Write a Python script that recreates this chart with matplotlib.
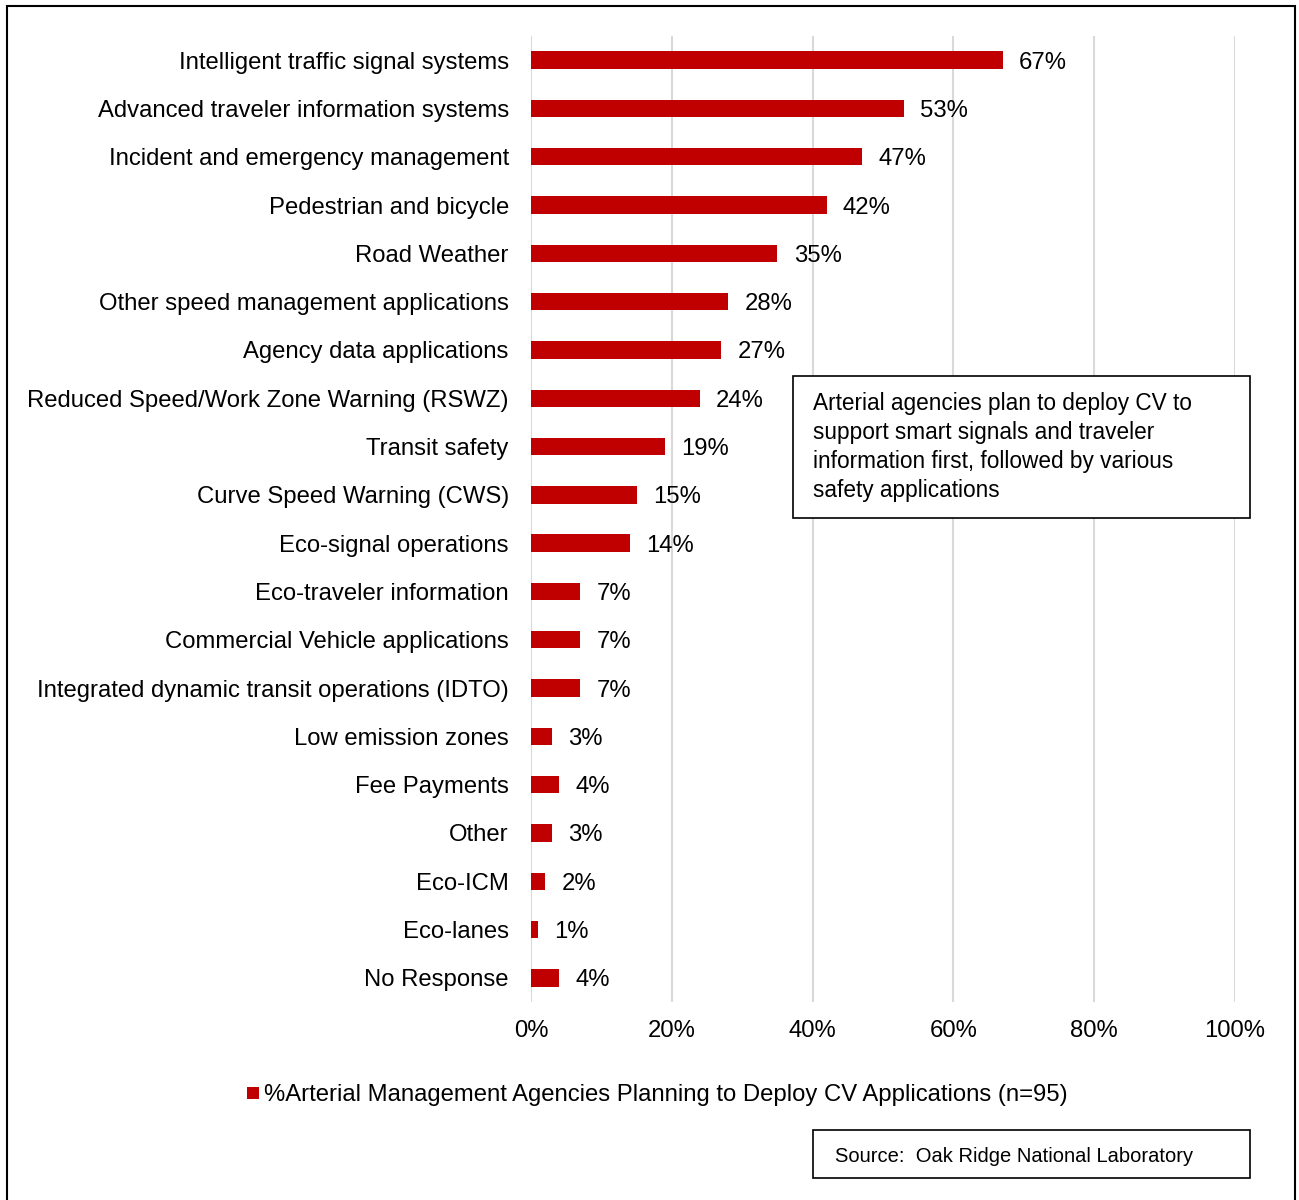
import matplotlib
matplotlib.use("Agg")
import matplotlib.pyplot as plt
from matplotlib.patches import Rectangle

plt.rcParams['font.family'] = ['Liberation Sans', 'DejaVu Sans']

categories = [
    "Intelligent traffic signal systems",
    "Advanced traveler information systems",
    "Incident and emergency management",
    "Pedestrian and bicycle",
    "Road Weather",
    "Other speed management applications",
    "Agency data applications",
    "Reduced Speed/Work Zone Warning (RSWZ)",
    "Transit safety",
    "Curve Speed Warning (CWS)",
    "Eco-signal operations",
    "Eco-traveler information",
    "Commercial Vehicle applications",
    "Integrated dynamic transit operations (IDTO)",
    "Low emission zones",
    "Fee Payments",
    "Other",
    "Eco-ICM",
    "Eco-lanes",
    "No Response",
]
values = [67, 53, 47, 42, 35, 28, 27, 24, 19, 15, 14, 7, 7, 7, 3, 4, 3, 2, 1, 4]
x_ticks = [0, 20, 40, 60, 80, 100]
series_name = "%Arterial Management Agencies Planning to Deploy CV Applications (n=95)"
note_text = ("Arterial agencies plan to deploy CV to\n"
             "support smart signals and traveler\n"
             "information first, followed by various\n"
             "safety applications")
source_text = "Source:  Oak Ridge National Laboratory"

RED = "#C00000"
GRID = "#D9D9D9"
FS = 17.2

W, H = 1299, 1200
fig = plt.figure(figsize=(W / 100, H / 100), dpi=100)

def fx(px):
    return px / W

def fy(py):
    return 1 - py / H

# outer frame
fig.patches.append(Rectangle((fx(7), fy(1210)), fx(1295) - fx(7), fy(6) - fy(1210),
                             transform=fig.transFigure, fill=False,
                             edgecolor="black", linewidth=1.5))

ax = fig.add_axes([fx(531), fy(1002), fx(1235) - fx(531), fy(36) - fy(1002)])
ypos = list(range(len(categories)))
ax.barh(ypos, values, height=0.36, color=RED, zorder=3)
ax.set_ylim(len(categories) - 0.5, -0.5)
ax.set_xlim(0, 100)
ax.set_yticks(ypos)
ax.set_yticklabels(categories, fontsize=FS)
ax.set_xticks(x_ticks)
ax.set_xticklabels([f"{t}%" for t in x_ticks], fontsize=FS)
ax.tick_params(axis='y', length=0, pad=16)
ax.tick_params(axis='x', length=0, pad=13)
for s in ax.spines.values():
    s.set_visible(False)
ax.xaxis.grid(True, color=GRID, linewidth=1.5, zorder=0)
ax.set_axisbelow(True)

for y, v in zip(ypos, values):
    ax.text(v + 2.3, y, f"{v}%", va='center_baseline', ha='left', fontsize=FS, zorder=4)

# callout note
fig.patches.append(Rectangle((fx(793), fy(518)), fx(1250) - fx(793), fy(376) - fy(518),
                             transform=fig.transFigure, fill=True, facecolor="white",
                             edgecolor="black", linewidth=1.2, zorder=5))
fig.text(fx(813), fy(447), note_text, ha='left', va='center', fontsize=16.3,
         linespacing=1.32, zorder=6)

# legend
fig.patches.append(Rectangle((fx(247), fy(1099)), fx(259) - fx(247), fy(1087) - fy(1099),
                             transform=fig.transFigure, facecolor=RED, edgecolor='none'))
fig.text(fx(264), fy(1093), series_name, ha='left', va='center_baseline', fontsize=FS)

# source box
fig.patches.append(Rectangle((fx(813), fy(1178)), fx(1250) - fx(813), fy(1130) - fy(1178),
                             transform=fig.transFigure, fill=False,
                             edgecolor="black", linewidth=1.2))
fig.text(fx(835), fy(1155), source_text, ha='left', va='center_baseline', fontsize=14.5)

fig.savefig("out.png", dpi=100, facecolor="white")
